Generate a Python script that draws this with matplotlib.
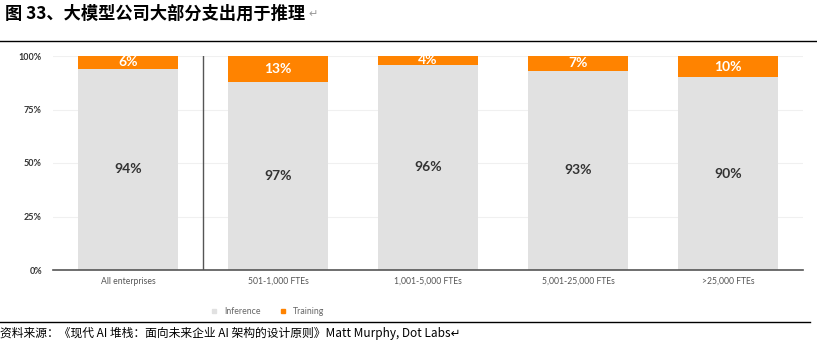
"""
大模型公司支出结构：推理 vs 训练（堆叠柱状图）
"""
import matplotlib.pyplot as plt
from matplotlib.lines import Line2D

CJK = ['Noto Sans CJK SC', 'DejaVu Sans']

categories = ['All enterprises', '501-1,000 FTEs', '1,001-5,000 FTEs',
              '5,001-25,000 FTEs', '>25,000 FTEs']
inference = [94, 88, 96, 93, 90]
training = [6, 12, 4, 7, 10]
inference_labels = ['94%', '97%', '96%', '93%', '90%']
training_labels = ['6%', '13%', '4%', '7%', '10%']
y_ticks = [0, 25, 50, 75, 100]
y_tick_labels = ['0%', '25%', '50%', '75%', '100%']

GRAY = '#e1e1e1'
ORANGE = '#ff8300'

fig = plt.figure(figsize=(8.17, 3.43), dpi=100)
ax = fig.add_axes([53/817, 1 - 270/343, 750/817, 214/343])

x = range(len(categories))
ax.bar(x, inference, width=0.667, color=GRAY, zorder=2)
ax.bar(x, training, bottom=inference, width=0.667, color=ORANGE, zorder=2)

for i in x:
    ax.text(i, inference[i] / 2, inference_labels[i], ha='center', va='center',
            fontsize=10, fontweight='bold', color='#333333', family='Lato', zorder=3)
    ax.text(i, inference[i] + training[i] / 2, training_labels[i], ha='center',
            va='center', fontsize=10, fontweight='bold', color='white',
            family='Lato', zorder=3)

ax.set_xlim(-0.5, len(categories) - 0.5)
ax.set_ylim(0, 100)
ax.set_yticks(y_ticks)
ax.set_yticklabels(y_tick_labels, fontsize=6.5, fontweight='bold',
                   color='#333333', family='Lato')
ax.set_xticks(list(x))
ax.set_xticklabels(categories, fontsize=6.2, color='#555555', family='Lato')
ax.tick_params(length=0, pad=8)
ax.tick_params(axis='x', pad=5)
for y in y_ticks[1:]:
    ax.axhline(y, color='#f0f0f0', lw=0.8, zorder=1)
for s in ['top', 'right', 'left']:
    ax.spines[s].set_visible(False)
ax.spines['bottom'].set_color('#555555')
ax.spines['bottom'].set_linewidth(1.2)
ax.axvline(0.5, color='#555555', lw=1.0, zorder=1)

handles = [Line2D([], [], marker='s', ls='', color=GRAY, markersize=3.5),
           Line2D([], [], marker='s', ls='', color=ORANGE, markersize=3.5)]
fig.legend(handles, ['Inference', 'Training'], loc='center',
           bbox_to_anchor=(265/817, 1 - 312/343), ncol=2, frameon=False,
           prop={'family': 'Lato', 'size': 6.3}, labelcolor='#666666',
           handletextpad=0.1, columnspacing=1.6)

# title, rules and source
fig.text(5/817, 1 - 14/343, '图 33、大模型公司大部分支出用于推理', ha='left',
         va='center', fontsize=12.4, fontweight='bold', family=CJK)
fig.text(308/817, 1 - 14/343, '↵', ha='left', va='center', fontsize=8,
         color='#999999', family='DejaVu Sans')
fig.add_artist(Line2D([0, 1], [1 - 41/343] * 2, color='black', lw=1.0))
fig.add_artist(Line2D([0, 810/817], [1 - 322/343] * 2, color='black', lw=1.0))
fig.text(0, 1 - 333/343, '资料来源：《现代 AI 堆栈：面向未来企业 AI 架构的设计原则》Matt Murphy, Dot Labs↵',
         ha='left', va='center', fontsize=8.5, family=CJK)

fig.savefig('out.png', dpi=100)
